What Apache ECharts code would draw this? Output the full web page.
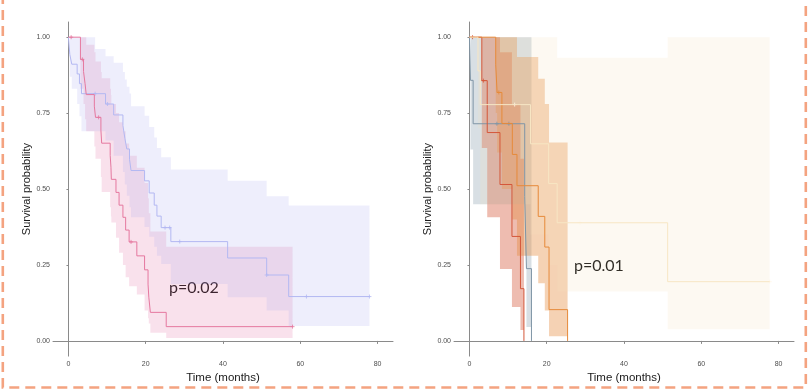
<!DOCTYPE html>
<html><head><meta charset="utf-8">
<script src="https://cdn.jsdelivr.net/npm/echarts@6/dist/echarts.min.js"></script>
<style>html,body{margin:0;padding:0;background:#fff}#c{width:808px;height:389px}</style>
</head><body><div id="c"></div>
<script>
// ---- tick labels ----
const xTicks = [0, 20, 40, 60, 80];
const yTicks = [0, 0.25, 0.5, 0.75, 1];

// ---- left panel: blue group ----
const blueTime  = [0, 0.35, 0.86, 2.25, 2.85, 3.37, 6.9, 9.6, 11.7, 14.1, 14.6, 15.1, 15.8, 16.2, 19.7, 20.9, 22.2, 22.9, 24.0, 26.5, 41.2, 51.3, 57.0, 77.9];
const blueSurv  = [1, 0.943, 0.911, 0.879, 0.847, 0.814, 0.814, 0.780, 0.744, 0.709, 0.667, 0.632, 0.598, 0.561, 0.527, 0.487, 0.447, 0.411, 0.373, 0.327, 0.273, 0.217, 0.146, 0.146];
const blueLower = [1, 0.87, 0.83, 0.78, 0.74, 0.69, 0.69, 0.66, 0.61, 0.556, 0.515, 0.478, 0.44, 0.407, 0.375, 0.343, 0.31, 0.28, 0.253, 0.187, 0.144, 0.10, 0.049, 0.049];
const blueUpper = [1, 1, 1, 1, 1, 1, 0.961, 0.937, 0.916, 0.885, 0.861, 0.837, 0.815, 0.773, 0.741, 0.704, 0.67, 0.635, 0.605, 0.564, 0.527, 0.476, 0.446, 0.446];
const blueCensor = [6.9, 10.1, 25.0, 26.2, 28.8, 51.3, 61.6, 77.9];

// ---- left panel: pink group ----
const pinkTime  = [0, 3.1, 3.9, 4.3, 4.6, 6.7, 7.0, 8.4, 8.6, 10.8, 11.0, 11.1, 12.3, 13.1, 14.1, 14.8, 15.7, 17.7, 19.7, 20.6, 20.8, 21.2, 25.3, 58.0];
const pinkSurv  = [1, 0.927, 0.887, 0.847, 0.811, 0.773, 0.736, 0.694, 0.651, 0.611, 0.572, 0.532, 0.489, 0.447, 0.407, 0.365, 0.326, 0.280, 0.234, 0.187, 0.144, 0.094, 0.047, 0.047];
const pinkLower = [1, 0.83, 0.78, 0.73, 0.69, 0.64, 0.60, 0.54, 0.49, 0.44, 0.41, 0.39, 0.34, 0.29, 0.25, 0.21, 0.18, 0.153, 0.10, 0.075, 0.057, 0.027, 0.01, 0.01];
const pinkUpper = [1, 1, 1, 1, 0.975, 0.95, 0.92, 0.885, 0.865, 0.83, 0.81, 0.78, 0.75, 0.72, 0.69, 0.65, 0.61, 0.57, 0.52, 0.47, 0.42, 0.36, 0.31, 0.31];
const pinkCensor = [0.7, 3.6, 7.8, 16.2, 58.0];

// ---- right panel: slate group ----
const slateTime  = [0, 0.26, 0.95, 14.3, 14.75, 16.05];
const slateSurv  = [1, 0.858, 0.715, 0.476, 0.238, 0];
const slateLower = [1, 0.63, 0.45, 0.28, 0.046, 0];
const slateUpper = [1, 1, 1, 1, 1, 0];
const slateCensor = [7.1, 10.2];

// ---- right panel: red group ----
const redTime  = [0, 3.2, 4.6, 7.9, 11.0, 13.2, 14.1];
const redSurv  = [1, 0.857, 0.686, 0.515, 0.344, 0.172, 0];
const redLower = [1, 0.635, 0.407, 0.237, 0.112, 0.036, 0];
const redUpper = [1, 1, 1, 0.95, 0.78, 0.6, 0];
const redCensor = [0.8, 3.6];

// ---- right panel: orange group ----
const orangeTime  = [0, 6.8, 7.15, 8.4, 11.1, 12.3, 17.8, 19.5, 20.6, 25.4];
const orangeSurv  = [1, 0.909, 0.818, 0.716, 0.614, 0.511, 0.41, 0.309, 0.103, 0];
const orangeLower = [1, 0.75, 0.62, 0.50, 0.40, 0.28, 0.19, 0.10, 0.015, 0];
const orangeUpper = [1, 1, 1, 1, 1, 0.935, 0.863, 0.78, 0.653, 0];
const orangeCensor = [7.6];

// ---- right panel: cream group ----
const creamTime  = [0, 2.2, 2.8, 15.8, 20.5, 22.7, 51.3, 77.7];
const creamSurv  = [1, 0.889, 0.778, 0.649, 0.518, 0.389, 0.195, 0.195];
const creamLower = [1, 0.70, 0.45, 0.35, 0.25, 0.163, 0.038, 0.038];
const creamUpper = [1, 1, 1, 1, 1, 0.932, 1, 1];
const creamCensor = [11.7, 28.6, 77.7];

const pValueLeft = 'p=0.02';
const pValueRight = 'p=0.01';

// ---------------------------------------------------------------
function survAt(times, surv, t) {
  let v = surv[0];
  for (let i = 0; i < times.length; i++) if (times[i] <= t) v = surv[i];
  return v;
}
function bandSeries(idx, times, lower, upper, color, alpha) {
  return {
    type: 'custom', xAxisIndex: idx, yAxisIndex: idx, silent: true,
    data: times.map((t, i) => [t, lower[i], upper[i]]),
    encode: { x: 0, y: [1, 2] },
    renderItem: function (params, api) {
      if (params.dataIndexInside !== 0) return null;
      const n = params.dataInsideLength;
      const top = [], bot = [];
      for (let i = 0; i < n - 1; i++) {
        const t0 = api.value(0, i), t1 = api.value(0, i + 1);
        const lo = api.value(1, i), hi = api.value(2, i);
        top.push(api.coord([t0, hi]), api.coord([t1, hi]));
        bot.push(api.coord([t0, lo]), api.coord([t1, lo]));
      }
      return { type: 'polygon', shape: { points: top.concat(bot.reverse()) },
               style: { fill: color, opacity: alpha } };
    }
  };
}
function lineSeries(idx, times, surv, color) {
  return {
    type: 'line', xAxisIndex: idx, yAxisIndex: idx, step: 'end', silent: true,
    showSymbol: false, symbol: 'none',
    data: times.map((t, i) => [t, surv[i]]),
    lineStyle: { color: color, width: 1 }
  };
}
function censorSeries(idx, cens, times, surv, color) {
  return {
    type: 'scatter', xAxisIndex: idx, yAxisIndex: idx, silent: true,
    symbol: 'path://M0 5L10 5M5 0L5 10', symbolSize: 4,
    data: cens.map(t => [t, survAt(times, surv, t)]),
    itemStyle: { color: 'rgba(0,0,0,0)', borderColor: color, borderWidth: 1 }
  };
}
function xAxisDef(idx) {
  return {
    gridIndex: idx, type: 'value', min: -4, max: 84,
    name: 'Time (months)', nameLocation: 'middle', nameGap: 10,
    nameTextStyle: { fontFamily: 'Liberation Sans', fontSize: 11.5, color: '#1a1a1a' },
    axisLine: { show: true, lineStyle: { color: '#8a8a8a', width: 1 } },
    axisTick: { show: true, length: 3, customValues: xTicks, lineStyle: { color: '#8a8a8a' } },
    axisLabel: { customValues: xTicks, fontFamily: 'Liberation Sans', fontSize: 7, color: '#4d4d4d', margin: 4 },
    splitLine: { show: false }
  };
}
function yAxisDef(idx) {
  return {
    gridIndex: idx, type: 'value', min: -0.05, max: 1.05,
    name: 'Survival probability', nameLocation: 'middle', nameGap: 16,
    nameTextStyle: { fontFamily: 'Liberation Sans', fontSize: 11, color: '#1a1a1a' },
    axisLine: { show: true, lineStyle: { color: '#8a8a8a', width: 1 } },
    axisTick: { show: true, length: 2, customValues: yTicks, lineStyle: { color: '#8a8a8a' } },
    axisLabel: { customValues: yTicks, formatter: v => Number(v).toFixed(2),
                 fontFamily: 'Liberation Sans', fontSize: 7, color: '#4d4d4d', margin: 3 },
    splitLine: { show: false }
  };
}

const cBlue = '#B3B8F2', cPink = '#E5789F';
const cSlate = '#7F95A6', cRed = '#D4573A', cOrange = '#E68A3A', cCream = '#F3E2C0';

const chart = echarts.init(document.getElementById('c'), null, { renderer: 'canvas' });
chart.setOption({
  animation: false,
  backgroundColor: '#fff',
  grid: [
    { left: 53, top: 22, width: 340, height: 345 },
    { left: 454, top: 22, width: 340, height: 345 }
  ],
  xAxis: [xAxisDef(0), xAxisDef(1)],
  yAxis: [yAxisDef(0), yAxisDef(1)],
  series: [
    bandSeries(0, pinkTime, pinkLower, pinkUpper, '#E98CB5', 0.26),
    bandSeries(0, blueTime, blueLower, blueUpper, '#A8ACF0', 0.2),
    lineSeries(0, blueTime, blueSurv, cBlue),
    lineSeries(0, pinkTime, pinkSurv, cPink),
    censorSeries(0, blueCensor, blueTime, blueSurv, cBlue),
    censorSeries(0, pinkCensor, pinkTime, pinkSurv, cPink),

    bandSeries(1, slateTime, slateLower, slateUpper, cSlate, 0.3),
    bandSeries(1, redTime, redLower, redUpper, cRed, 0.4),
    bandSeries(1, orangeTime, orangeLower, orangeUpper, cOrange, 0.38),
    bandSeries(1, creamTime, creamLower, creamUpper, cCream, 0.2),
    lineSeries(1, slateTime, slateSurv, cSlate),
    lineSeries(1, redTime, redSurv, cRed),
    lineSeries(1, orangeTime, orangeSurv, cOrange),
    lineSeries(1, creamTime, creamSurv, '#F7E6C4'),
    censorSeries(1, slateCensor, slateTime, slateSurv, cSlate),
    censorSeries(1, redCensor, redTime, redSurv, cRed),
    censorSeries(1, orangeCensor, orangeTime, orangeSurv, cOrange),
    censorSeries(1, creamCensor, creamTime, creamSurv, '#FFF6E6')
  ],
  graphic: [
    { type: 'polyline', z: -1, silent: true,
      shape: { points: [[2.8, -6], [2.8, 387.5], [805.8, 387.5], [805.8, -6]] },
      style: { stroke: '#F4A380', lineWidth: 2.6, lineDash: [10, 6], fill: null } },
    { type: 'text', left: 169, top: 280, silent: true,
      style: { text: pValueLeft, font: '16px Lato', fill: '#000' } },
    { type: 'text', left: 574, top: 258, silent: true,
      style: { text: pValueRight, font: '16px Lato', fill: '#000' } }
  ]
});
</script></body></html>
